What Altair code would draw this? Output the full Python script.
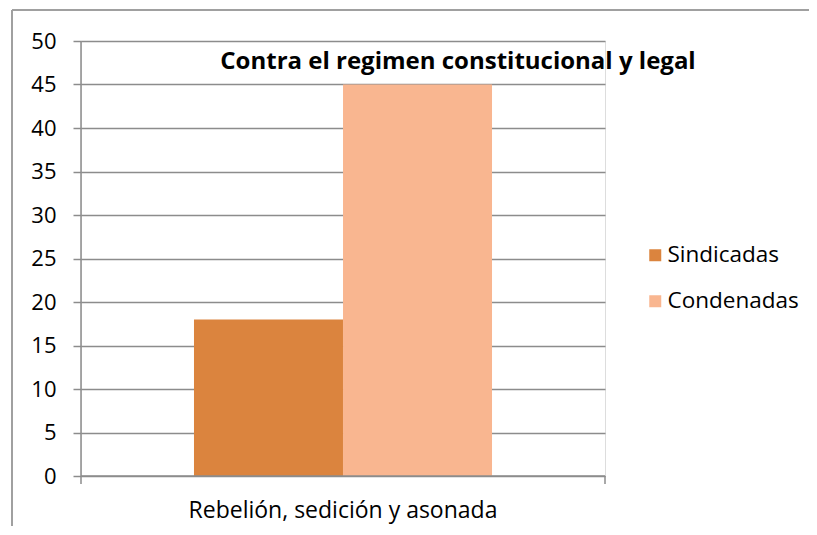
import altair as alt
import pandas as pd

categories = ["Rebelión, sedición y asonada"]
series = ["Sindicadas", "Condenadas"]
values = [18, 45]
colors = ["#DB843E", "#F9B690"]
title_text = "Contra el regimen constitucional y legal"

df = pd.DataFrame({
    "cat": [categories[0]] * len(series),
    "serie": series,
    "valor": values,
})

FONT = "Open Sans"
W, H = 524, 435
GRID = "#8c8c8c"

bars = alt.Chart(df).mark_bar(size=149).encode(
    x=alt.X("cat:N", title=None, sort=categories,
            scale=alt.Scale(paddingInner=0, paddingOuter=0.379),
            axis=alt.Axis(domain=False, ticks=False, labelAngle=0, labelLimit=0,
                          labelFont=FONT, labelFontSize=23, labelColor="#000",
                          labelPadding=23)),
    xOffset=alt.XOffset("serie:N", sort=series),
    y=alt.Y("valor:Q", title=None,
            scale=alt.Scale(domain=[0, 50], nice=False),
            axis=alt.Axis(values=list(range(0, 51, 5)), grid=True, gridColor=GRID,
                          gridWidth=1.5, domain=False, tickColor=GRID, tickWidth=1.5,
                          tickSize=8, labelFont=FONT, labelFontSize=22,
                          labelColor="#000", labelPadding=17)),
    color=alt.Color("serie:N", sort=series,
                    scale=alt.Scale(domain=series, range=colors),
                    legend=alt.Legend(title=None, orient="none", legendX=563, legendY=203,
                                      symbolType="square", symbolSize=144,
                                      symbolStrokeWidth=0, labelFont=FONT,
                                      labelFontSize=22.5, labelColor="#000",
                                      rowPadding=23, labelOffset=1, labelLimit=0)),
)

axis_rules = alt.Chart(pd.DataFrame({"k": [0]})).mark_rule(color=GRID, strokeWidth=1.5)
y_dom = axis_rules.encode(x=alt.value(0), y=alt.value(0), y2=alt.value(H + 8))
x_dom = axis_rules.encode(x=alt.value(0), x2=alt.value(W), y=alt.value(H))
x_tick_r = axis_rules.encode(x=alt.value(W), y=alt.value(H), y2=alt.value(H + 8))

border = alt.Chart(pd.DataFrame({"k": [0]})).mark_rule(color="#a0a0a0", strokeWidth=2, clip=False)
b_left = border.encode(x=alt.value(-69), y=alt.value(-31), y2=alt.value(H + 80))
b_top = border.encode(x=alt.value(-69), x2=alt.value(W + 260), y=alt.value(-31))

title = alt.Chart(pd.DataFrame({"t": [title_text]})).mark_text(
    font=FONT, fontSize=24, fontWeight="bold", color="#000",
    align="center", baseline="middle"
).encode(x=alt.value(377), y=alt.value(21), text="t:N")

chart = alt.layer(bars, y_dom, x_dom, x_tick_r, b_left, b_top, title).properties(
    width=W, height=H,
    autosize=alt.AutoSizeParams(type="none"),
    padding={"left": 73, "top": 33, "right": 204, "bottom": 50},
).configure_view(stroke=None).configure(background="white")

chart.save("out.html", embed_options={"renderer": "svg", "actions": False})
